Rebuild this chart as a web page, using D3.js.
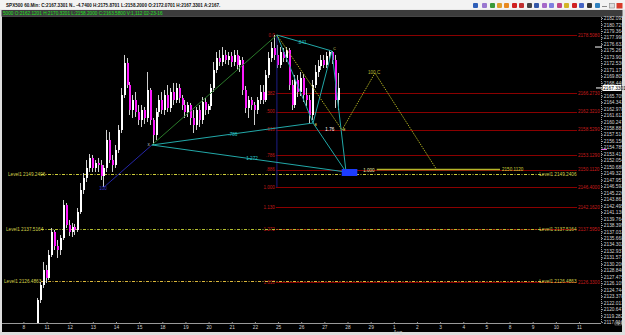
<!DOCTYPE html>
<html>
<head>
<meta charset="utf-8">
<script src="https://cdn.jsdelivr.net/npm/d3@7"></script>
<style>
  html, body { margin: 0; padding: 0; background: #dedede; overflow: hidden; }
  svg { display: block; font-family: "Liberation Sans Narrow", "Liberation Sans", Arial, sans-serif; }
</style>
</head>
<body>
<svg id="chart" width="625" height="335"></svg>
<script>
// hourly bars, [open, high, low, close], first one sits at bar index 5
const firstBar = 5;
const candles = [
  [2116.24, 2123.00, 2115.19, 2122.58], [2122.58, 2126.38, 2121.94, 2125.74],
  [2125.74, 2130.60, 2125.11, 2128.91], [2128.91, 2129.96, 2126.16, 2127.22],
  [2127.22, 2133.13, 2126.80, 2132.07], [2132.07, 2137.77, 2131.65, 2136.93],
  [2136.93, 2137.35, 2133.13, 2133.97], [2133.97, 2135.24, 2131.44, 2133.13],
  [2133.13, 2136.29, 2132.07, 2135.66], [2135.66, 2143.68, 2135.24, 2142.63],
  [2142.63, 2143.05, 2137.77, 2138.41], [2138.41, 2139.46, 2136.08, 2136.93],
  [2136.93, 2138.83, 2135.87, 2137.98], [2137.98, 2138.62, 2136.29, 2137.35],
  [2137.35, 2141.99, 2136.93, 2141.15], [2141.15, 2147.27, 2140.73, 2145.79],
  [2145.79, 2149.38, 2144.95, 2148.33], [2148.33, 2152.12, 2147.48, 2150.44],
  [2150.44, 2153.39, 2149.59, 2152.55], [2152.55, 2153.18, 2149.59, 2150.44],
  [2150.44, 2152.12, 2149.59, 2151.49], [2151.49, 2152.55, 2149.59, 2151.07],
  [2151.07, 2152.12, 2147.90, 2148.75], [2148.75, 2151.07, 2146.43, 2150.44],
  [2150.44, 2158.46, 2149.59, 2156.35], [2156.35, 2158.03, 2151.49, 2152.12],
  [2152.12, 2153.18, 2149.59, 2151.07], [2151.07, 2155.29, 2150.44, 2154.24],
  [2154.24, 2159.51, 2153.60, 2158.46], [2158.46, 2167.32, 2157.82, 2165.84],
  [2165.84, 2174.29, 2165.21, 2172.60], [2172.60, 2173.65, 2167.32, 2167.95],
  [2167.95, 2168.59, 2161.62, 2162.68], [2162.68, 2165.84, 2160.99, 2164.79],
  [2164.79, 2166.48, 2161.20, 2162.25], [2162.25, 2163.73, 2159.51, 2160.57],
  [2160.57, 2163.73, 2159.09, 2162.68], [2162.68, 2163.31, 2159.72, 2160.99],
  [2160.99, 2170.70, 2160.14, 2166.90], [2166.90, 2167.32, 2159.51, 2160.57],
  [2160.57, 2160.99, 2155.29, 2157.40], [2157.40, 2163.10, 2156.35, 2162.25],
  [2162.25, 2165.84, 2161.20, 2164.79], [2164.79, 2166.48, 2161.83, 2162.68],
  [2162.68, 2166.90, 2161.62, 2165.84], [2165.84, 2167.95, 2162.25, 2163.10],
  [2163.10, 2167.32, 2162.25, 2166.48], [2166.48, 2168.38, 2163.73, 2164.79],
  [2164.79, 2168.38, 2164.15, 2167.32], [2167.32, 2168.17, 2164.15, 2165.21],
  [2165.21, 2165.84, 2162.68, 2163.73], [2163.73, 2164.79, 2160.99, 2162.25],
  [2162.25, 2164.37, 2161.20, 2163.73], [2163.73, 2164.15, 2159.51, 2160.99],
  [2160.99, 2162.68, 2157.82, 2159.51], [2159.51, 2163.31, 2158.46, 2162.68],
  [2162.68, 2163.73, 2159.09, 2160.57], [2160.57, 2165.42, 2159.72, 2164.37],
  [2164.37, 2165.21, 2161.62, 2162.68], [2162.68, 2163.94, 2161.83, 2163.52],
  [2163.52, 2168.17, 2162.68, 2167.32], [2167.32, 2172.81, 2166.48, 2171.12],
  [2171.12, 2174.92, 2170.49, 2173.65], [2173.65, 2175.34, 2171.96, 2172.81],
  [2172.81, 2175.97, 2171.96, 2174.29], [2174.29, 2175.34, 2172.39, 2173.23],
  [2173.23, 2174.92, 2172.18, 2174.07], [2174.07, 2174.92, 2171.75, 2172.81],
  [2172.81, 2175.34, 2171.96, 2174.29], [2174.29, 2175.34, 2171.12, 2172.18],
  [2172.18, 2174.07, 2170.70, 2173.23], [2173.23, 2173.86, 2165.84, 2166.90],
  [2166.90, 2167.74, 2162.04, 2163.10], [2163.10, 2165.63, 2160.99, 2164.79],
  [2164.79, 2165.42, 2162.68, 2163.73], [2163.73, 2164.37, 2159.51, 2162.68],
  [2162.68, 2165.42, 2161.83, 2164.79], [2164.79, 2167.95, 2163.94, 2166.48],
  [2166.48, 2167.95, 2163.94, 2164.79], [2164.79, 2171.12, 2164.37, 2170.06],
  [2170.06, 2174.92, 2169.43, 2173.65], [2173.65, 2177.03, 2172.81, 2175.76],
  [2175.76, 2178.51, 2173.23, 2174.29], [2174.29, 2176.40, 2171.54, 2172.18],
  [2172.18, 2175.97, 2171.54, 2174.92], [2174.92, 2175.76, 2172.81, 2173.65],
  [2173.65, 2175.97, 2172.81, 2175.34], [2175.34, 2175.76, 2166.90, 2167.95],
  [2167.95, 2169.01, 2162.68, 2163.73], [2163.73, 2170.06, 2163.10, 2169.01],
  [2169.01, 2170.06, 2165.42, 2166.48], [2166.48, 2170.70, 2165.63, 2169.43],
  [2169.43, 2170.28, 2164.37, 2165.84], [2165.84, 2167.32, 2163.52, 2164.79],
  [2164.79, 2165.84, 2159.93, 2161.62], [2161.62, 2169.01, 2160.57, 2167.95],
  [2167.95, 2172.18, 2167.32, 2170.70], [2170.70, 2173.23, 2169.64, 2171.96],
  [2171.96, 2174.29, 2171.12, 2173.23], [2173.23, 2174.29, 2171.54, 2172.18],
  [2172.18, 2174.92, 2171.54, 2174.07], [2174.07, 2175.34, 2173.23, 2174.92],
  [2174.92, 2175.13, 2172.39, 2173.23], [2173.23, 2174.29, 2163.10, 2164.79],
  [2164.79, 2170.49, 2162.68, 2167.33]
];
const lastPrice = 2167.3301;

const barsPerDay = 8;
const dayLabels = ["8", "11", "12", "13", "14", "15", "18", "19", "20", "21", "22", "25", "26",
  "27", "28", "29", "1", "2", "3", "4", "5", "8", "9", "10", "11"];
const monthLabel = "Aug";
const monthDay = 16;

const priceTicks = [2182.0951, 2180.7296, 2179.3641, 2177.9986, 2176.6331, 2175.2676, 2173.9021,
  2172.5366, 2171.1711, 2169.8056, 2168.4401, 2167.0746, 2165.7091, 2164.3436, 2162.9781,
  2161.6126, 2160.2471, 2158.8816, 2157.5161, 2156.1506, 2154.7851, 2153.4196, 2152.0541,
  2150.6886, 2149.3231, 2147.9576, 2146.5921, 2145.2266, 2143.8611, 2142.4956, 2141.1301,
  2139.7646, 2138.3991, 2137.0336, 2135.6681, 2134.3026, 2132.9371, 2131.5716, 2130.2061,
  2128.8406, 2127.4751, 2126.1096, 2124.7441, 2123.3786, 2122.0131, 2120.6476, 2119.2821,
  2117.9166];

// fibonacci levels drawn from the swing top
const fibRatios = ["0.0", ".382", ".500", ".618", ".786", ".886", "1.000", "1.130", "1.272", "1.618"];
const fibPrices = [2178.508, 2166.273, 2162.321, 2158.529, 2153.129, 2150.112, 2146.400,
  2142.162, 2137.595, 2126.330];
const fibStartBar = 87.6;

const levelPrices = [2149.2406, 2137.5164, 2126.4863];
const levelNames = ["Level1 2149.2406", "Level1 2137.5164", "Level1 2126.4863"];

// harmonic pattern pivots
const pivotNames = ["100", "X", "A", "B", "C", "D"];
const pivotBars = [27.85, 44.4, 87.6, 100.1, 106.6, 111.5];
const pivotPrices = [2146.40, 2155.29, 2178.508, 2159.93, 2175.13, 2149.59];

// projected leg
const projBars = [87.6, 110.1, 121.5, 142.9];
const projPrices = [2178.508, 2158.46, 2170.49, 2150.01];
const targetPrice = 2150.112;
const targetBars = [122.1, 164.7];

const ratioText = [".786", "1.272", ".841", "1.76", "100.C", "1.000"];
const ratioBars = [72.4, 79.0, 96.3, 105.9, 121.2, 119.4];
const ratioPrices = [2157.61, 2152.34, 2176.82, 2158.46, 2170.49, 2150.0];

const titleText = "SPX500 60.Min: C:2167.3301 N.. -4.7400 H:2175.8701 L:2158.2000 O:2172.0701 H:2167.3301 A:2167.";
const infoText = "5000 O:2162.1201 H:2170.3201 L:2158.2000 C:2163.5800 V:1,112 02-23-16";

const svg = d3.select("#chart");
const W = 625, H = 335;
const plot = { left: 2, right: 601, top: 17, bottom: 323 };

const x = d3.scaleLinear().domain([0, barsPerDay * 24]).range([23.4, 579]);
const y = d3.scaleLinear().domain([2117.72, 2182.0951]).range([323, 18]);

// window chrome
svg.append("rect").attr("width", W).attr("height", H).attr("fill", "#dedede");
svg.append("rect").attr("width", W).attr("height", 9.5).attr("fill", "#f3f3f3");
svg.append("text").attr("x", 6).attr("y", 6.6).attr("font-size", 4.6).attr("font-weight", "bold")
  .attr("fill", "#111").text(titleText);

const iconX = [473, 482, 490, 497, 504, 512, 519, 527, 534, 542, 549, 557, 564, 572, 579, 587, 595];
const iconColors = ["#2f5fb8", "#9a78d0", "#3a9a3a", "#e0a030", "#e88a20", "#d02020", "#c03030", "#454545",
  "#3458a8", "#a468c8", "#7f7fe0", "#c04688", "#d4b428", "#d02020", "#4464c4", "#333", "#2f82c0"];
svg.append("g").selectAll("rect").data(iconX).join("rect")
  .attr("x", d => d).attr("y", 3).attr("width", 5).attr("height", 5)
  .attr("fill", (d, i) => iconColors[i]).attr("rx", 1);
svg.append("rect").attr("x", 602).attr("y", 6).attr("width", 5).attr("height", 1).attr("fill", "#888");
svg.append("rect").attr("x", 609.5).attr("y", 3.5).attr("width", 5).attr("height", 4.5)
  .attr("fill", "#ddd").attr("stroke", "#888").attr("stroke-width", 0.6);
svg.append("rect").attr("x", 616.5).attr("y", 3).attr("width", 6).attr("height", 5.5).attr("fill", "#d83a2a");

svg.append("rect").attr("x", 1.5).attr("y", 10).attr("width", 621).attr("height", 6.5).attr("fill", "#3c3c3c");
svg.append("text").attr("x", 3).attr("y", 15.2).attr("font-size", 4.7).attr("fill", "#22e022").text(infoText);

svg.append("rect").attr("x", 2).attr("y", 16.5).attr("width", 620).attr("height", 315.5).attr("fill", "#000");

svg.append("defs").append("clipPath").attr("id", "plotClip")
  .append("rect").attr("x", plot.left).attr("y", plot.top)
  .attr("width", plot.right - plot.left).attr("height", plot.bottom - plot.top);

const g = svg.append("g").attr("clip-path", "url(#plotClip)");

// fibonacci lines
const xFib = x(fibStartBar);
g.append("g").selectAll("line").data(fibPrices).join("line")
  .attr("x1", xFib - 1).attr("x2", 577)
  .attr("y1", d => Math.round(y(d)) + 0.5).attr("y2", d => Math.round(y(d)) + 0.5)
  .attr("stroke", "#8a0000").attr("stroke-width", 1);
g.append("g").selectAll("text").data(fibRatios).join("text")
  .attr("x", xFib - 2).attr("y", (d, i) => y(fibPrices[i]) + 1.8)
  .attr("text-anchor", "end").attr("font-size", 4.6).attr("fill", "#c21818").text(d => d);
g.append("g").selectAll("text").data(fibPrices).join("text")
  .attr("x", 578).attr("y", d => y(d) + 1.8)
  .attr("font-size", 4.6).attr("fill", "#c81c1c").text(d => d.toFixed(4));

// dashed levels
const levelColors = ["#cfcf3a", "#b4bf30", "#dcb83a"];
levelPrices.forEach((p, i) => {
  const yy = Math.round(y(p)) + 0.5;
  g.append("line").attr("x1", 41).attr("x2", 545).attr("y1", yy).attr("y2", yy)
    .attr("stroke", levelColors[i]).attr("stroke-dasharray", "3,1.5,1,1.5");
  g.append("text").attr("x", 8 - i * 2).attr("y", yy + 1.7).attr("font-size", 4.7)
    .attr("fill", "#d2d24a").text(levelNames[i]);
  g.append("text").attr("x", 576.5).attr("y", yy + 1.7).attr("font-size", 4.7).attr("text-anchor", "end")
    .attr("fill", "#d2d24a").text(levelNames[i]);
});

// candles
const bars = candles.map((d, i) => ({ i: firstBar + i, o: d[0], h: d[1], l: d[2], c: d[3] }));
const cg = g.append("g");
cg.selectAll("line").data(bars).join("line")
  .attr("x1", d => Math.round(x(d.i)) - 0.5).attr("x2", d => Math.round(x(d.i)) - 0.5)
  .attr("y1", d => y(d.h)).attr("y2", d => y(d.l))
  .attr("stroke", "#cfcfcf").attr("stroke-width", 1);
cg.selectAll("rect").data(bars).join("rect")
  .attr("x", d => Math.round(x(d.i)) - 1).attr("width", 2)
  .attr("y", d => y(Math.max(d.o, d.c)))
  .attr("height", d => Math.max(1, Math.abs(y(d.o) - y(d.c))))
  .attr("fill", d => d.c >= d.o ? "#ffffff" : "#ff1aff");

// pattern
const pt = k => [x(pivotBars[k]), y(pivotPrices[k])];
const line = d3.line();
g.append("line").attr("x1", x(pivotBars[2])).attr("x2", x(pivotBars[2]))
  .attr("y1", y(pivotPrices[2])).attr("y2", y(pivotPrices[0]))
  .attr("stroke", "#1c1c86").attr("stroke-width", 1);
g.append("path").attr("d", line([pt(0), pt(1)])).attr("stroke", "#2626a8").attr("fill", "none");
g.append("path").attr("d", line([pt(1), pt(2)])).attr("stroke", "#2a7a2a").attr("fill", "none");
const teal = [[1, 3], [1, 5], [2, 3], [3, 4], [4, 5], [2, 4], [3, 5]];
g.append("g").selectAll("path").data(teal).join("path")
  .attr("d", d => line([pt(d[0]), pt(d[1])]))
  .attr("stroke", "#22a8a8").attr("stroke-width", 1).attr("fill", "none");

const projPts = projBars.map((b, i) => [x(b), y(projPrices[i])]);
g.append("path").attr("d", line(projPts)).attr("stroke", "#a8a820")
  .attr("stroke-dasharray", "1.5,1").attr("fill", "none");
g.append("line").attr("x1", x(targetBars[0])).attr("x2", x(targetBars[1]))
  .attr("y1", y(targetPrice)).attr("y2", y(targetPrice))
  .attr("stroke", "#b4b428").attr("stroke-width", 1.5);
g.append("text").attr("x", x(targetBars[1]) + 2).attr("y", y(targetPrice) + 1.8)
  .attr("font-size", 4.6).attr("fill", "#d4d43a").text(targetPrice.toFixed(4));

// D zone box
g.append("rect").attr("x", x(110)).attr("y", y(2150.22))
  .attr("width", x(115.4) - x(110)).attr("height", y(2148.75) - y(2150.22)).attr("fill", "#1d3cff");

// labels
const ratioColors = ["#28c8c8", "#28c8c8", "#28c8c8", "#ffffff", "#b8b830", "#e8e8a0"];
g.append("g").selectAll("text").data(ratioText).join("text")
  .attr("x", (d, i) => x(ratioBars[i])).attr("y", (d, i) => y(ratioPrices[i]) + 1.5)
  .attr("text-anchor", "middle").attr("font-size", 4.6).attr("fill", (d, i) => ratioColors[i]).text(d => d);
g.append("text").attr("x", x(pivotBars[0]) - 1).attr("y", y(pivotPrices[0]) + 3)
  .attr("text-anchor", "middle").attr("font-size", 4.5).attr("fill", "#3a3ad0").text(pivotNames[0]);
g.append("text").attr("x", x(pivotBars[1]) - 2).attr("y", y(pivotPrices[1]) + 1.5)
  .attr("font-size", 3.5).attr("fill", "#ddd").attr("text-anchor", "end").text(pivotNames[1]);
[3, 4].forEach(k => g.append("text").attr("x", pt(k)[0] + 1.5).attr("y", pt(k)[1] + (k === 3 ? 3 : -1))
  .attr("font-size", 3.5).attr("fill", "#dddd66").text(pivotNames[k]));
g.append("text").attr("x", projPts[1][0] + 1).attr("y", projPts[1][1] + 1.5)
  .attr("font-size", 3.5).attr("fill", "#dddd66").text(pivotNames[3]);

// price axis
const ya = svg.append("g").attr("transform", `translate(${plot.right + 0.5},0)`)
  .call(d3.axisRight(y).tickValues(priceTicks).tickFormat(d3.format(".4f")).tickSize(1.5).tickPadding(0.8));
ya.select(".domain").attr("stroke", "#9a9a9a").attr("stroke-dasharray", "1,1")
  .attr("d", `M0,${plot.top}V${plot.bottom}`);
ya.selectAll(".tick line").attr("stroke", "#9a9a9a");
ya.selectAll(".tick text").attr("font-size", 4.8).attr("fill", "#d6d6d6").attr("font-family", null);

// last price marker
svg.append("rect").attr("x", 602.5).attr("y", y(lastPrice) - 3).attr("width", 19).attr("height", 6).attr("fill", "#fff");
svg.append("text").attr("x", 603.2).attr("y", y(lastPrice) + 1.8).attr("font-size", 4.8).attr("fill", "#000")
  .text(lastPrice.toFixed(4));
svg.append("line").attr("x1", 596).attr("x2", 602).attr("y1", y(lastPrice)).attr("y2", y(lastPrice)).attr("stroke", "#fff");
svg.append("line").attr("x1", 595).attr("x2", 602).attr("y1", y(2175.97)).attr("y2", y(2175.97)).attr("stroke", "#fff");
svg.append("line").attr("x1", 601).attr("x2", 607).attr("y1", y(2154.34)).attr("y2", y(2154.34)).attr("stroke", "#e070e0");

// time axis
const xa = svg.append("g").attr("transform", `translate(0,${plot.bottom + 0.5})`)
  .call(d3.axisBottom(x).tickValues(dayLabels.map((d, i) => i * barsPerDay))
    .tickFormat((d, i) => dayLabels[i]).tickSizeInner(-1.5).tickSizeOuter(0).tickPadding(2.5));
xa.select(".domain").attr("stroke", "#9a9a9a").attr("d", `M${plot.left},0H${plot.right}`);
xa.selectAll(".tick line").attr("stroke", "#9a9a9a");
xa.selectAll(".tick text").attr("font-size", 4.8).attr("fill", "#d0d0d0").attr("font-family", null);
svg.append("text").attr("x", x(monthDay * barsPerDay) + 4).attr("y", 333.5).attr("text-anchor", "middle")
  .attr("font-size", 4.8).attr("fill", "#d0d0d0").text(monthLabel);

// scroll boxes bottom right
svg.append("rect").attr("x", 615).attr("y", 322).attr("width", 3).attr("height", 3).attr("fill", "none").attr("stroke", "#aaa").attr("stroke-width", 0.5);
svg.append("rect").attr("x", 618.5).attr("y", 322).attr("width", 3).attr("height", 3).attr("fill", "none").attr("stroke", "#aaa").attr("stroke-width", 0.5);
</script>
</body>
</html>
